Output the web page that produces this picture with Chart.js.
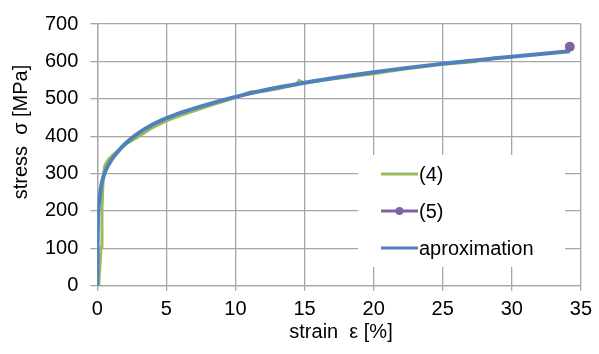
<!DOCTYPE html>
<html>
<head>
<meta charset="utf-8">
<script src="https://cdn.jsdelivr.net/npm/chart.js@4"></script>
<style>
  html, body { margin: 0; padding: 0; background: #fff; }
  #wrap { width: 599px; height: 354px; }
</style>
</head>
<body>
<div id="wrap"><canvas id="chart"></canvas></div>
<script>
// measured curve (4)
const strain4 = [0.1, 0.15, 0.2, 0.27, 0.34, 0.4, 0.45, 0.55, 0.8, 1.2, 2, 3, 4, 5, 6, 8, 10, 11.1, 12, 13, 14.4, 14.6, 15, 17, 20, 22, 25, 27.5]
const stress4 = [0, 30, 60, 103, 202, 262, 300, 322, 338, 352, 377, 399, 423, 441, 455, 480, 503, 519, 520, 526, 538, 549, 542, 553, 567, 578, 592, 600]

// point (5)
const strain5 = [34.2]
const stress5 = [639]

// aproximation
const strainA = [0, 0.02, 0.06, 0.14, 0.3, 0.55, 1, 1.5, 2, 2.7, 4, 5.35, 6, 8, 10, 12.5, 15, 17, 20, 25, 29, 34.2]
const stressA = [0, 100, 180, 226, 270, 303, 335, 359, 379, 401, 431, 453, 462, 485, 505, 526, 543, 555, 571, 594, 609, 627]

const xTicks = [0, 5, 10, 15, 20, 25, 30, 35]
const yTicks = [0, 100, 200, 300, 400, 500, 600, 700]

const labels = ["(4)", "(5)", "aproximation"]
const colors = ["#9bbb59", "#8064a2", "#4f81bd"]

const font = "Liberation Sans, Arial, sans-serif"

function pts(xs, ys) {
    return xs.map((x, i) => ({ x: x, y: ys[i] }))
}

// draws the axis titles and the legend box inside the plot
const extras = {
    id: "extras",
    afterDraw(chart) {
        const ctx = chart.ctx
        ctx.save()
        ctx.fillStyle = "#000"
        ctx.font = "20px " + font
        ctx.textAlign = "center"
        ctx.textBaseline = "middle"
        ctx.fillText("strain  \u03b5 [%]", 341, 332)
        ctx.translate(21, 132)
        ctx.rotate(-Math.PI / 2)
        ctx.fillText("stress  \u03c3 [MPa]", 0, 0)
        ctx.restore()

        ctx.save()
        ctx.fillStyle = "#fff"
        ctx.fillRect(358, 155, 207, 112)
        const rows = [174, 211, 248]
        chart.data.datasets.forEach((ds, i) => {
            const y = rows[i]
            ctx.strokeStyle = ds.borderColor
            ctx.lineWidth = 3
            ctx.beginPath()
            ctx.moveTo(381, y)
            ctx.lineTo(418, y)
            ctx.stroke()
            if (ds.pointRadius > 0) {
                ctx.fillStyle = ds.pointBackgroundColor
                ctx.beginPath()
                ctx.arc(399.5, y, 4, 0, Math.PI * 2)
                ctx.fill()
            }
            ctx.fillStyle = "#000"
            ctx.font = "20px " + font
            ctx.textAlign = "left"
            ctx.textBaseline = "middle"
            ctx.fillText(ds.label, 419, y + 1)
        })
        ctx.restore()
    }
}

const config = {
    type: "scatter",
    data: {
        datasets: [{
            label: labels[0],
            data: pts(strain4, stress4),
            showLine: true,
            borderColor: colors[0],
            borderWidth: 3,
            pointRadius: 0,
            order: 3,
        }, {
            label: labels[1],
            data: pts(strain5, stress5),
            showLine: true,
            borderColor: colors[1],
            borderWidth: 3,
            pointRadius: 5,
            pointBackgroundColor: colors[1],
            pointBorderWidth: 0,
            order: 1,
        }, {
            label: labels[2],
            data: pts(strainA, stressA),
            showLine: true,
            borderColor: colors[2],
            borderWidth: 4,
            pointRadius: 0,
            cubicInterpolationMode: "monotone",
            order: 2,
        }],
    },
    options: {
        responsive: false,
        animation: false,
        devicePixelRatio: 1,
        layout: {
            padding: { top: 19, right: 15, left: 0, bottom: 0 }
        },
        plugins: {
            legend: { display: false },
            tooltip: { enabled: false },
        },
        scales: {
            x: {
                type: "linear",
                min: 0,
                max: 35,
                afterBuildTicks: (s) => { s.ticks = xTicks.map(v => ({ value: v })) },
                afterFit: (s) => { s.height = 68.3 },
                ticks: {
                    color: "#000",
                    padding: 7,
                    font: { family: font, size: 20 },
                },
                grid: { color: "#a6a6a6", lineWidth: 1.3, tickLength: 5, tickColor: "#a6a6a6" },
                border: { color: "#a6a6a6", width: 1.3 },
            },
            y: {
                type: "linear",
                min: 0,
                max: 700,
                afterBuildTicks: (s) => { s.ticks = yTicks.map(v => ({ value: v })) },
                afterFit: (s) => { s.width = 97.3 },
                ticks: {
                    color: "#000",
                    padding: 12,
                    font: { family: font, size: 20 },
                },
                grid: { color: "#a6a6a6", lineWidth: 1.3, tickLength: 7, tickColor: "#a6a6a6" },
                border: { color: "#a6a6a6", width: 1.3 },
            }
        }
    },
    plugins: [extras]
}

const canvas = document.getElementById("chart")
canvas.width = 599
canvas.height = 354
new Chart(canvas.getContext("2d"), config)
</script>
</body>
</html>
